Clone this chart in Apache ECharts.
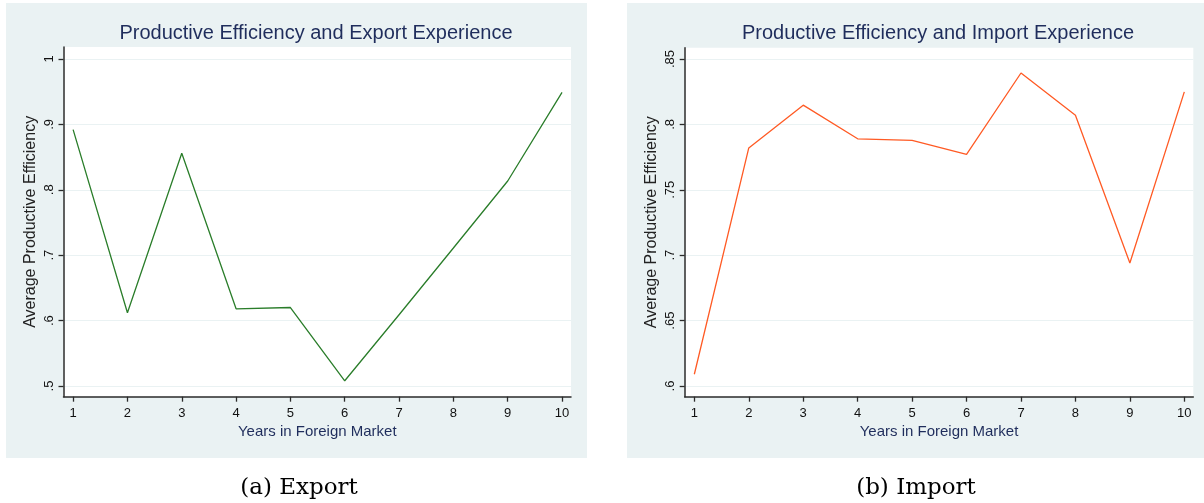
<!DOCTYPE html>
<html>
<head>
<meta charset="utf-8">
<script src="https://cdn.jsdelivr.net/npm/echarts@6/dist/echarts.min.js"></script>
<style>
html,body{margin:0;padding:0;background:#fff;}
#chart{width:1204px;height:503px;}
</style>
</head>
<body>
<div id="chart"></div>
<script>
// ---- data ----
const years = [1, 2, 3, 4, 5, 6, 7, 8, 9, 10];
const exportEff = [0.892, 0.612, 0.856, 0.618, 0.620, 0.508, 0.609, 0.711, 0.8135, 0.949];
const importEff = [0.609, 0.782, 0.8147, 0.789, 0.7878, 0.777, 0.8393, 0.807, 0.694, 0.8249];
const xTicks = [1, 2, 3, 4, 5, 6, 7, 8, 9, 10];
const exportYTicks = [0.5, 0.6, 0.7, 0.8, 0.9, 1];
const exportYLabels = ['.5', '.6', '.7', '.8', '.9', '1'];
const importYTicks = [0.6, 0.65, 0.7, 0.75, 0.8, 0.85];
const importYLabels = ['.6', '.65', '.7', '.75', '.8', '.85'];
const titles = ['Productive Efficiency and Export Experience', 'Productive Efficiency and Import Experience'];
const captions = ['(a) Export', '(b) Import'];
const xTitle = 'Years in Foreign Market';
const yTitle = 'Average Productive Efficiency';

// ---- chart ----
const chart = echarts.init(document.getElementById('chart'), null, {renderer: 'canvas'});
const SANS = '"Liberation Sans", Arial, sans-serif';
const axisColor = '#2b2b2b';
const panelBg = '#eaf2f3';

function pairs(xs, ys) { return xs.map((x, i) => [x, ys[i]]); }

function makeX(gridIndex) {
  return {
    type: 'value', gridIndex: gridIndex, min: 0.823, max: 10.165,
    name: xTitle, nameLocation: 'middle', nameGap: 24,
    nameTextStyle: {fontFamily: SANS, fontSize: 15, color: '#1f2d5c'},
    axisLine: {show: true, onZero: false, lineStyle: {color: axisColor, width: 1.5}},
    axisTick: {show: true, length: 5, customValues: xTicks, lineStyle: {color: axisColor, width: 1.3}},
    axisLabel: {show: true, customValues: xTicks, margin: 10, fontFamily: SANS, fontSize: 13, color: '#111'},
    splitLine: {show: false}
  };
}
function makeY(gridIndex, min, max, ticks, labels) {
  return {
    type: 'value', gridIndex: gridIndex, min: min, max: max,
    name: yTitle, nameLocation: 'middle', nameGap: 25, nameRotate: 90,
    nameTextStyle: {fontFamily: SANS, fontSize: 16, color: '#222'},
    axisLine: {show: true, onZero: false, lineStyle: {color: axisColor, width: 1.5}},
    axisTick: {show: true, length: 5, customValues: ticks, lineStyle: {color: axisColor, width: 1.3}},
    axisLabel: {
      show: true, customValues: ticks, rotate: 90, margin: 8,
      fontFamily: SANS, fontSize: 13, color: '#111',
      formatter: function (v) {
        const i = ticks.findIndex(t => Math.abs(t - v) < 1e-9);
        return i >= 0 ? labels[i] : '';
      }
    },
    splitLine: {show: true, lineStyle: {color: panelBg, width: 1.2}}
  };
}

const option = {
  backgroundColor: '#ffffff',
  animation: false,
  graphic: [
    {type: 'rect', z: -10, shape: {x: 6, y: 3, width: 581, height: 455}, style: {fill: panelBg}},
    {type: 'rect', z: -10, shape: {x: 627, y: 3, width: 577, height: 455}, style: {fill: panelBg}},
    {type: 'text', style: {text: titles[0], x: 316, y: 33, align: 'center', verticalAlign: 'middle',
      fontFamily: SANS, fontSize: 20, fill: '#1f2d5c'}},
    {type: 'text', style: {text: titles[1], x: 938, y: 33, align: 'center', verticalAlign: 'middle',
      fontFamily: SANS, fontSize: 20, fill: '#1f2d5c'}},
    {type: 'text', style: {text: captions[0], x: 299, y: 488, align: 'center', verticalAlign: 'middle',
      fontFamily: '"DejaVu Serif", serif', fontSize: 23, fill: '#000'}},
    {type: 'text', style: {text: captions[1], x: 916, y: 488, align: 'center', verticalAlign: 'middle',
      fontFamily: '"DejaVu Serif", serif', fontSize: 23, fill: '#000'}}
  ],
  grid: [
    {left: 63.5, top: 47, width: 507.5, height: 349.7, show: true, backgroundColor: '#ffffff', borderWidth: 0, containLabel: false},
    {left: 684.7, top: 47.7, width: 508.6, height: 349, show: true, backgroundColor: '#ffffff', borderWidth: 0, containLabel: false}
  ],
  xAxis: [makeX(0), makeX(1)],
  yAxis: [
    makeY(0, 0.48364, 1.01835, exportYTicks, exportYLabels),
    makeY(1, 0.59182, 0.85864, importYTicks, importYLabels)
  ],
  series: [
    {type: 'line', xAxisIndex: 0, yAxisIndex: 0, data: pairs(years, exportEff), showSymbol: false,
      lineStyle: {color: '#2a7d2a', width: 1.3}, itemStyle: {color: '#2a7d2a'}},
    {type: 'line', xAxisIndex: 1, yAxisIndex: 1, data: pairs(years, importEff), showSymbol: false,
      lineStyle: {color: '#ff5a24', width: 1.3}, itemStyle: {color: '#ff5a24'}}
  ]
};
chart.setOption(option);
</script>
</body>
</html>
